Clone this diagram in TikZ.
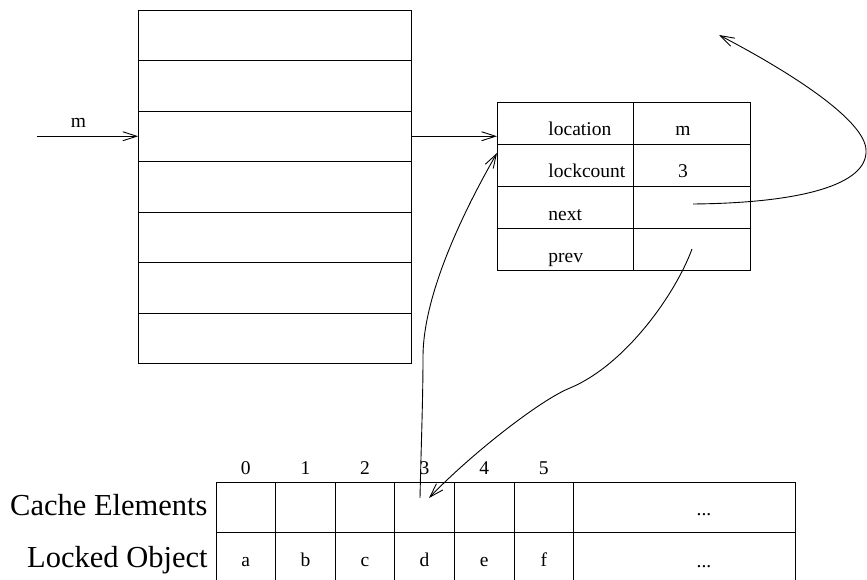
\documentclass[tikz,border=0pt]{standalone}
\usepackage{fontspec}
\setmainfont{Liberation Serif}
\usetikzlibrary{arrows.meta}

\begin{document}
\begin{tikzpicture}[x=1pt, y=-1pt, line width=0.9pt,
  box/.style={draw, rectangle, inner sep=0pt, outer sep=0pt},
  stackrow/.style={box, minimum width=273.5pt, minimum height=50.5pt},
  keycell/.style={box, minimum width=136pt, minimum height=42.1pt},
  valcell/.style={box, minimum width=117pt, minimum height=42.1pt},
  slot/.style={box, minimum width=59.6pt, minimum height=50pt},
  wideslot/.style={box, minimum width=222pt, minimum height=50pt},
  small/.style={inner sep=0pt, font=\fontsize{19.5}{22}\selectfont},
  big/.style={inner sep=0pt, font=\fontsize{30.5}{34}\selectfont},
  arr/.style={-{Straight Barb[length=14pt,width=9pt]}}]

\useasboundingbox (0,0) rectangle (867,580);
\clip (0,0) rectangle (867,580);

% hash table on the left
\foreach \i in {0,...,6}
  \node[stackrow] (s\i) at (275, {35.25+50.5*\i}) {};

% incoming key
\coordinate (min) at (37, 136.25);
\node[small, anchor=base] (mlbl) at (78.5, 128) {m};
\draw[arr] (min) -- (s2.west);

% lock record
\foreach \i in {0,...,3} {
  \node[keycell] (r\i) at (565, {123.05+42.1*\i}) {};
  \node[valcell] (v\i) at (691.5, {123.05+42.1*\i}) {};
}
\node[small, anchor=base west] (tloc)  at (548, 136) {location};
\node[small, anchor=base west] (tcnt)  at (548, 178) {lockcount};
\node[small, anchor=base west] (tnext) at (548, 220) {next};
\node[small, anchor=base west] (tprev) at (548, 262) {prev};
\node[small, anchor=base] (vloc) at (683, 136) {m};
\node[small, anchor=base] (vcnt) at (683, 178) {3};

% bucket entry points at the record
\draw[arr] (s2.east) -- (s2.east -| r0.west);

% cache array
\foreach \i in {0,...,5} {
  \node[slot] (c\i) at ({245.8+59.6*\i}, 507) {};
  \node[slot] (l\i) at ({245.8+59.6*\i}, 557) {};
  \node[small, anchor=base] (n\i) at ({245.8+59.6*\i}, 474) {\i};
}
\node[wideslot] (cx) at (684, 507) {};
\node[wideslot] (lx) at (684, 557) {};
\node[small, anchor=base] (cdots) at (704, 515) {...};
\node[small, anchor=base] (ldots) at (704, 567) {...};
\foreach \i/\t in {0/a,1/b,2/c,3/d,4/e,5/f}
  \node[small, anchor=base] (o\i) at ({245.8+59.6*\i}, 566) {\t};

\node[big, anchor=base east] (hce) at (208, 515) {Cache Elements};
\node[big, anchor=base east] (hlo) at (208, 567) {Locked Object};

% pointer curves
\coordinate (nextsrc) at (693, 204);
\coordinate (nexttip) at (719, 35);
\draw[arr] (nextsrc) .. controls (800,203) and (868,185) .. (866,150)
  .. controls (865,120) and (790,72) .. (nexttip);

\coordinate (elemsrc) at (420, 498);
\coordinate (elemtip) at (497, 153);
\draw[arr] (elemsrc) .. controls (421,450) and (423,400) .. (423,357)
  .. controls (423,290) and (470,200) .. (elemtip);

\coordinate (prevsrc) at (692, 249);
\coordinate (prevtip) at (429, 498);
\draw[arr] (prevsrc) .. controls (675,295) and (625,365) .. (570,388)
  .. controls (540,400) and (470,455) .. (prevtip);
\end{tikzpicture}
\end{document}
